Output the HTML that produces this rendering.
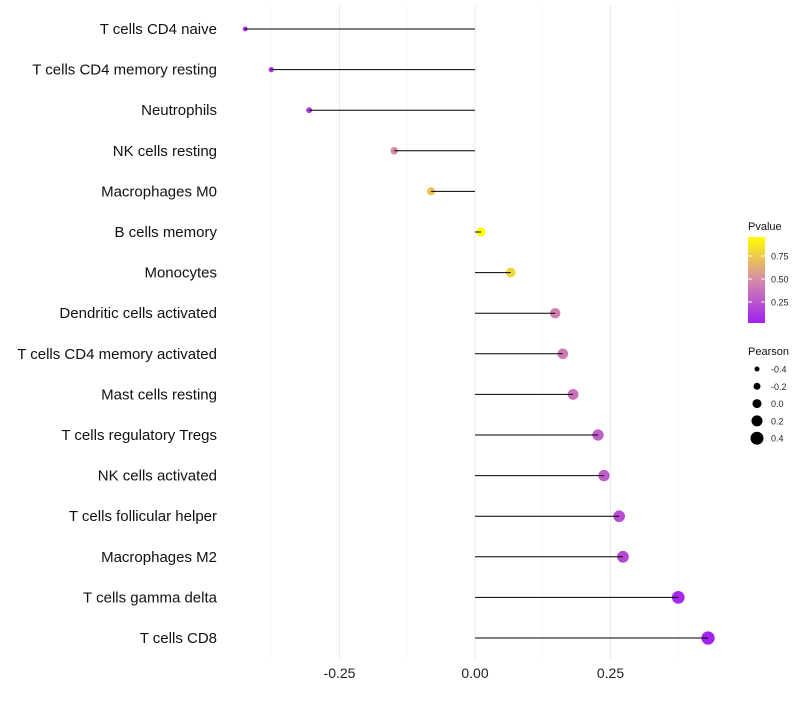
<!DOCTYPE html>
<html><head><meta charset="utf-8"><style>body{margin:0;background:#fff}svg{font-family:"Liberation Sans",sans-serif}</style></head>
<body>
<svg id="chart" width="800" height="700"></svg>
<script>
const categories=["T cells CD4 naive","T cells CD4 memory resting","Neutrophils","NK cells resting","Macrophages M0","B cells memory","Monocytes","Dendritic cells activated","T cells CD4 memory activated","Mast cells resting","T cells regulatory  Tregs ","NK cells activated","T cells follicular helper","Macrophages M2","T cells gamma delta","T cells CD8"];
const pearson=[-0.424,-0.376,-0.306,-0.149,-0.081,0.011,0.066,0.148,0.162,0.181,0.227,0.238,0.266,0.273,0.375,0.430];
const pvalues=[0.04,0.08,0.15,0.5,0.72,0.97,0.8,0.45,0.42,0.38,0.3,0.28,0.22,0.2,0.06,0.04];
const xTicks=[-0.25,0,0.25];
const xTickLabels=["-0.25","0.00","0.25"];
const xMinor=[-0.375,-0.125,0.125,0.375];
const pTicks=[0.25,0.5,0.75];
const sizeTicks=[-0.4,-0.2,0,0.2,0.4];
const NS="http://www.w3.org/2000/svg",svg=document.getElementById('chart');
function mk(t,a,p){const e=document.createElementNS(NS,t);for(const k in a)e.setAttribute(k,a[k]);(p||svg).appendChild(e);return e;}
const X=v=>475+v*542, Y=i=>29+i*40.6, R=p=>4.5+5*p;
function lerp(a,b,t){return a.map((v,i)=>Math.round(v+(b[i]-v)*t));}
function col(p){const lo=[160,32,240],mid=[214,138,170],hi=[255,255,0];let t=Math.max(0,Math.min(1,(p-0.02)/0.94));const c=t<0.5?lerp(lo,mid,t*2):lerp(mid,hi,(t-0.5)*2);return `rgb(${c})`;}
const PY=p=>302-(p-0.25)*92;
xMinor.forEach(v=>{const l=mk('line',{x1:X(v),x2:X(v),y1:5,y2:660,stroke:'#f3f3f3','stroke-width':0.6});});
xTicks.forEach((v,i)=>{const l=mk('line',{x1:X(v),x2:X(v),y1:5,y2:660,stroke:'#ebebeb','stroke-width':1});
const t=mk('text',{x:X(v),y:678,'text-anchor':'middle','font-size':14,fill:'#222'});t.textContent=xTickLabels[i];});
categories.forEach((c,i)=>{const t=mk('text',{x:217,y:Y(i)+5,'text-anchor':'end','font-size':15,fill:'#111'});t.textContent=c;
const d=mk('circle',{cx:X(pearson[i]),cy:Y(i),r:R(pearson[i]),fill:col(pvalues[i])});
const l=mk('line',{x1:X(0),x2:X(pearson[i]),y1:Y(i),y2:Y(i),stroke:'#000','stroke-width':1});});
const defs=mk('defs',{});const g=mk('linearGradient',{id:'pg',x1:0,y1:1,x2:0,y2:0},defs);
for(let k=0;k<=10;k++){const p=0.02+k*0.094;mk('stop',{offset:k/10,'stop-color':col(p)},g);}
let t=mk('text',{x:748,y:230,'font-size':11,fill:'#111'});t.textContent='Pvalue';
const bar=mk('rect',{x:748,y:237,width:17,height:86,fill:'url(#pg)'});
pTicks.forEach(p=>{mk('line',{x1:748,x2:752,y1:PY(p),y2:PY(p),stroke:'#fff'});mk('line',{x1:761,x2:765,y1:PY(p),y2:PY(p),stroke:'#fff'});
const tt=mk('text',{x:771,y:PY(p)+3.5,'font-size':9,fill:'#222'});tt.textContent=p.toFixed(2);});
t=mk('text',{x:748,y:355,'font-size':11,fill:'#111'});t.textContent='Pearson';
sizeTicks.forEach((s,i)=>{const y=369+i*17.3;const c=mk('circle',{cx:757,cy:y,r:R(s),fill:'#000'});
const tt=mk('text',{x:771,y:y+3.5,'font-size':9,fill:'#222'});tt.textContent=s.toFixed(1);});
</script>
</body></html>
